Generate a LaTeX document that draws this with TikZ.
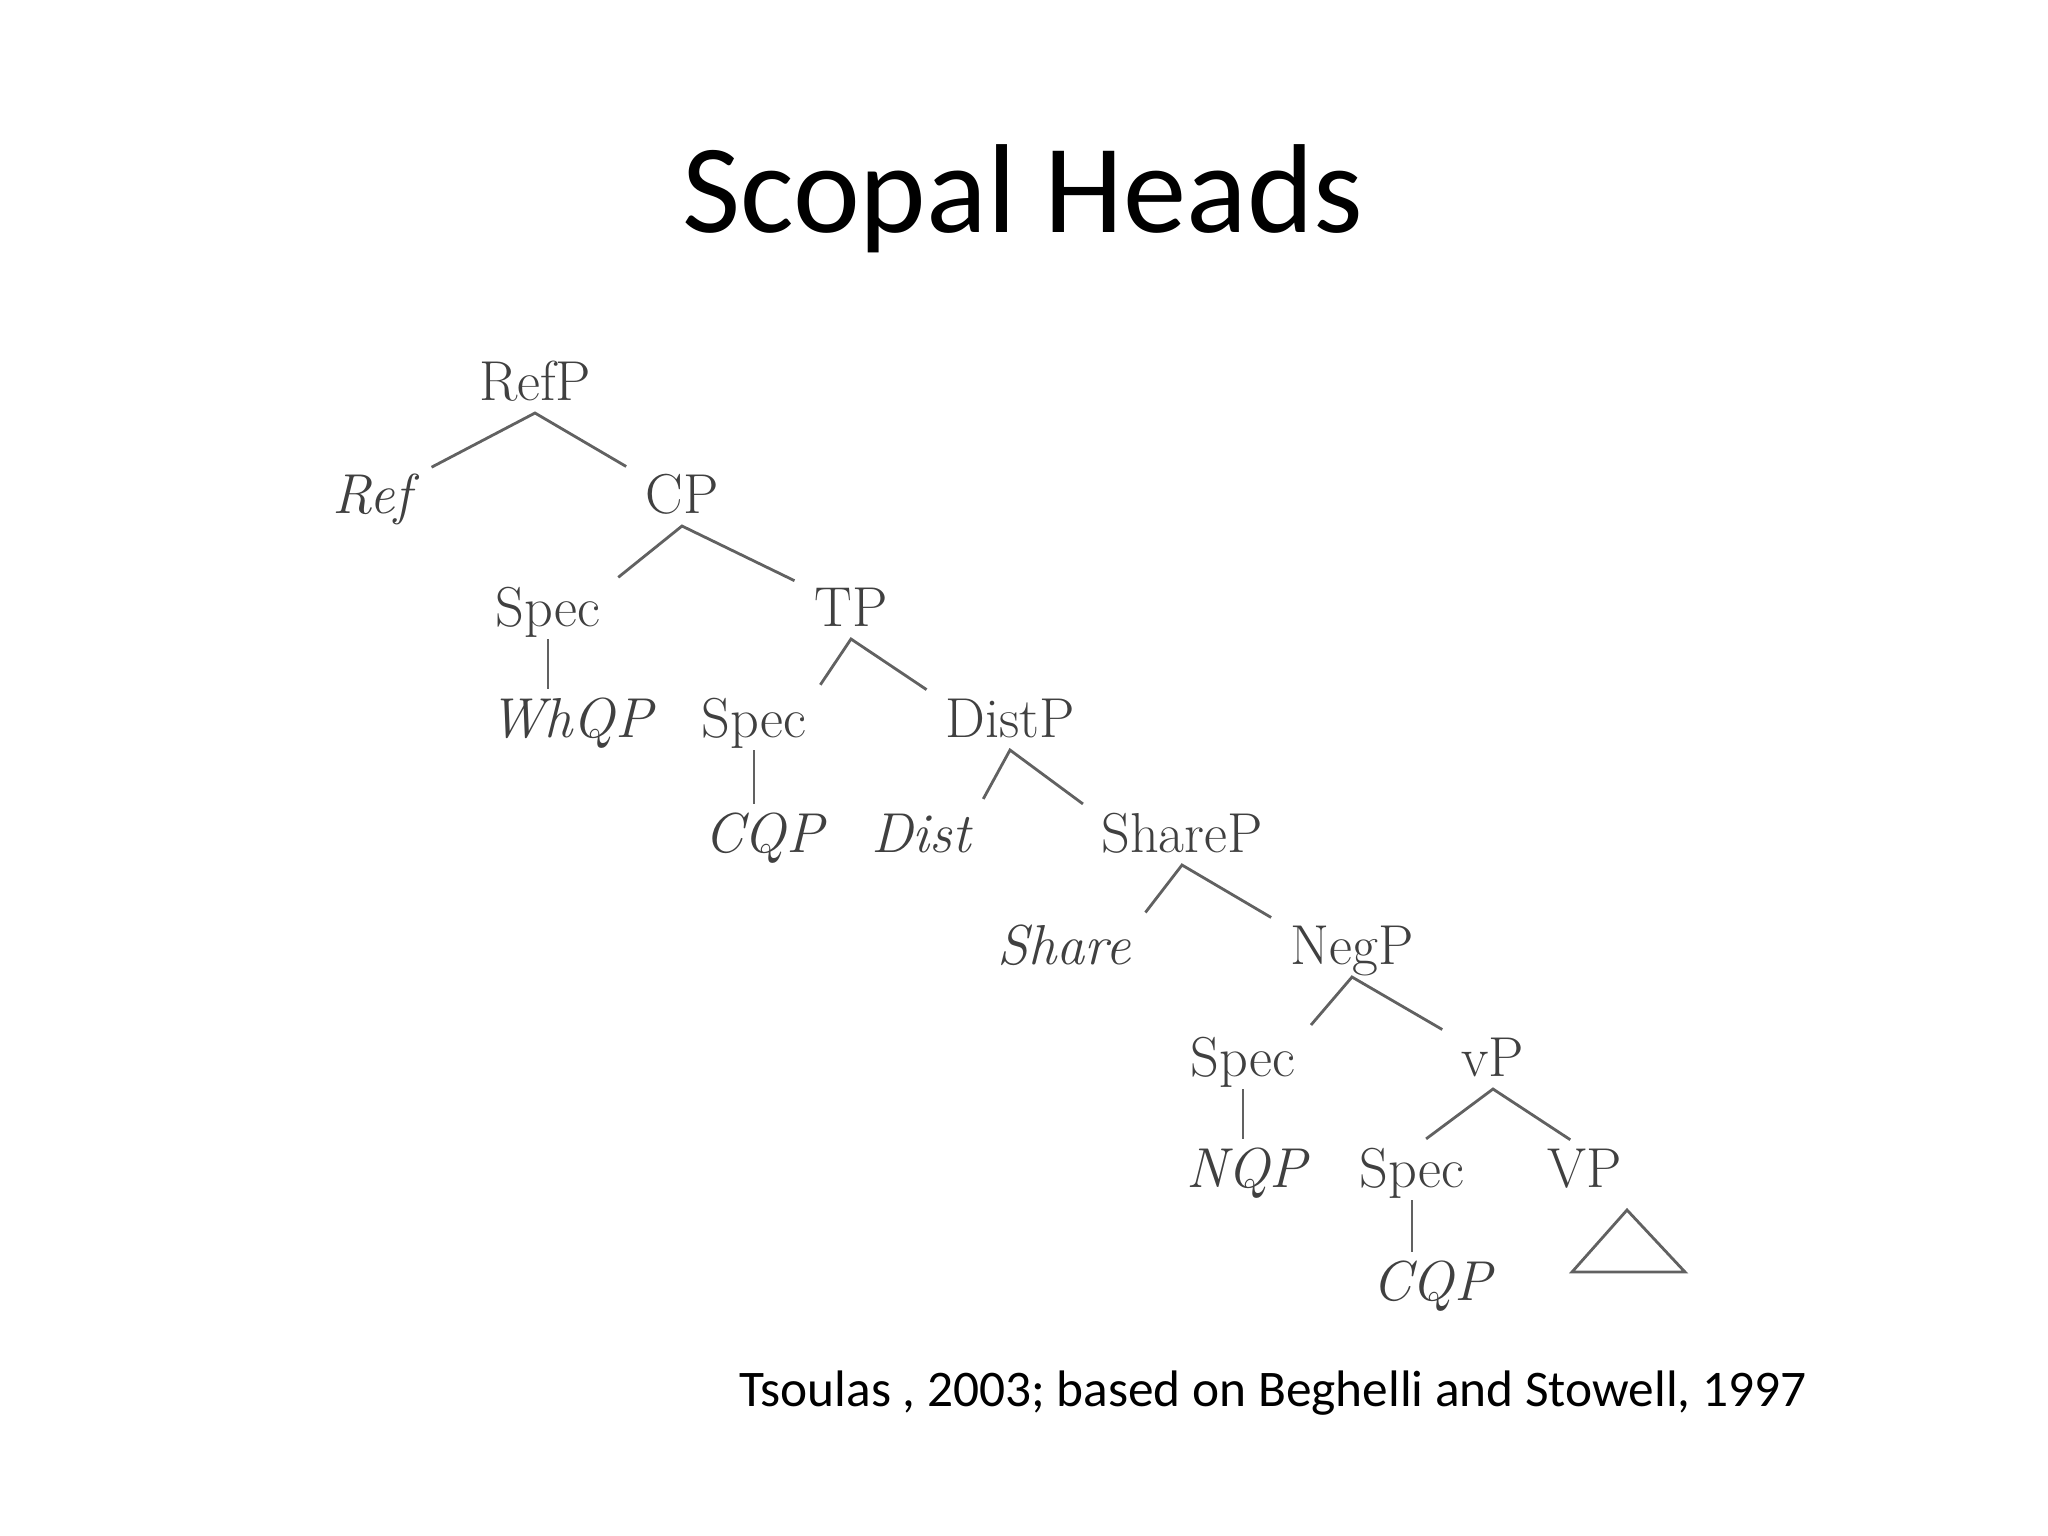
\documentclass[tikz,border=0pt]{standalone}
\usepackage{fontspec}
\newfontfamily\slidefont{Carlito}
\tikzset{
    treenode/.style = {text=black!75, inner xsep=.1em, inner ysep=.35em,
                       anchor=base, text height=.7em, text depth=0em,
                       font=\fontsize{16}{18}\selectfont},
    headnode/.style = {treenode, font=\fontsize{16}{18}\selectfont\itshape},
    branch/.style   = {draw=black!62, line width=.8pt}
}

\begin{document}
\begin{tikzpicture}[x=.01cm, y=-.01cm]
    \useasboundingbox (0,0) rectangle (2048,1536);

    \node (title) at (1023,232) [anchor=base,
                                 font=\slidefont\fontsize{36}{40}\selectfont] {Scopal Heads};

    % phrases and specifiers
    \foreach \Name/\x/\y/\Label in {%
        refp/535/400/RefP,
        cp/682/513/CP,
        spec1/548/626/Spec,
        tp/851/626/TP,
        spec2/754/737/Spec,
        distp/1010/737/DistP,
        sharep/1182/852/ShareP,
        negp/1352/964/NegP,
        spec3/1243/1076/Spec,
        vp/1493/1076/vP,
        spec4/1412/1187/Spec,
        vbarp/1585/1187/VP%
        }
        \node[treenode] (\Name) at (\x,\y) {\Label};

    % heads and quantifier phrases
    \foreach \Name/\x/\y/\Label in {%
        ref/372/513/Ref,
        whqp/571/737/WhQP,
        cqpa/764/852/CQP,
        dist/921/852/Dist,
        share/1064/964/Share,
        nqp/1247/1187/NQP,
        cqpb/1432/1300/CQP%
        }
        \node[headnode] (\Name) at (\x,\y) {\Label};

    \foreach \Parent/\Left/\LeftAt/\Right/\RightAt in {%
        refp/ref/north east/cp/north west,
        cp/spec1/north east/tp/north west,
        tp/spec2/north east/distp/north west,
        distp/dist/north east/sharep/north west,
        sharep/share/north east/negp/north west,
        negp/spec3/north east/vp/north west,
        vp/spec4/north/vbarp/north%
        }
        \draw[branch, shorten <=5pt, shorten >=5pt]
            (\Left.\LeftAt) -- (\Parent.south) -- (\Right.\RightAt);

    \foreach \Spec/\Filler in {%
        spec1/whqp,
        spec2/cqpa,
        spec3/nqp,
        spec4/cqpb%
        }
        \draw[branch, shorten >=3pt] (\Spec.south) -- (\Spec.south |- \Filler.north);

    % the VP is not spelled out
    \coordinate (vpapex) at (1627,1210);
    \draw[branch] (vpapex) -- ++(-55,62) -- ++(113,0) -- cycle;

    \node (cite) at (1273,1406) [anchor=base,
                                 font=\slidefont\fontsize{14.6}{17}\selectfont]
        {Tsoulas , 2003; based on Beghelli and Stowell, 1997};
\end{tikzpicture}
\end{document}
